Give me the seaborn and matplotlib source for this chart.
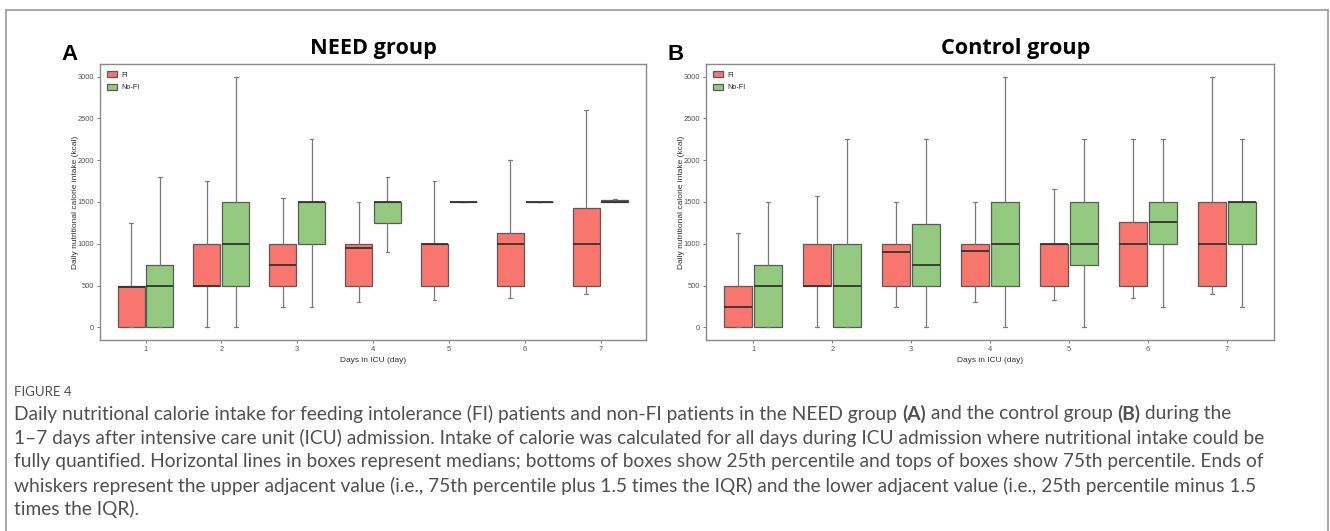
import numpy as np
import pandas as pd
import matplotlib
matplotlib.use("Agg")
import matplotlib.pyplot as plt
from matplotlib.lines import Line2D
import seaborn as sns

# ---- data: five-number summaries per day (kcal) ----
days = [1, 2, 3, 4, 5, 6, 7]
groups = ["FI", "No-FI"]

# NEED group
need_fi_low = [0, 0, 250, 300, 330, 350, 400]
need_fi_q1 = [0, 500, 500, 500, 500, 500, 500]
need_fi_med = [480, 500, 750, 950, 1000, 1000, 1000]
need_fi_q3 = [500, 1000, 1000, 1000, 1000, 1125, 1425]
need_fi_high = [1250, 1750, 1550, 1500, 1750, 2000, 2600]

need_nofi_low = [0, 0, 250, 900, 1500, 1500, 1500]
need_nofi_q1 = [0, 500, 1000, 1250, 1500, 1500, 1500]
need_nofi_med = [500, 1000, 1500, 1500, 1500, 1500, 1500]
need_nofi_q3 = [750, 1500, 1500, 1500, 1500, 1500, 1520]
need_nofi_high = [1800, 3000, 2250, 1800, 1500, 1500, 1530]

# Control group
ctrl_fi_low = [0, 0, 250, 300, 330, 350, 400]
ctrl_fi_q1 = [0, 500, 500, 500, 500, 500, 500]
ctrl_fi_med = [250, 500, 900, 910, 1000, 1000, 1000]
ctrl_fi_q3 = [500, 1000, 1000, 1000, 1000, 1260, 1500]
ctrl_fi_high = [1125, 1570, 1500, 1500, 1650, 2250, 3000]

ctrl_nofi_low = [0, 0, 0, 0, 0, 250, 250]
ctrl_nofi_q1 = [0, 0, 500, 500, 750, 1000, 1000]
ctrl_nofi_med = [500, 500, 750, 1000, 1000, 1260, 1500]
ctrl_nofi_q3 = [750, 1000, 1240, 1500, 1500, 1500, 1500]
ctrl_nofi_high = [1500, 2250, 2250, 3000, 2250, 2250, 2250]

y_ticks = [0, 500, 1000, 1500, 2000, 2500, 3000]

palette = {"FI": "#F8766D", "No-FI": "#94CA7F"}


def long_table(fi, nofi):
    """Five summary values per box -> long-form table (quartiles land exactly)."""
    rows = []
    for g, summ in zip(groups, (fi, nofi)):
        for i, d in enumerate(days):
            for arr in summ:
                rows.append({"day": str(d), "group": g, "kcal": arr[i]})
    return pd.DataFrame(rows)


need_df = long_table(
    (need_fi_low, need_fi_q1, need_fi_med, need_fi_q3, need_fi_high),
    (need_nofi_low, need_nofi_q1, need_nofi_med, need_nofi_q3, need_nofi_high),
)
ctrl_df = long_table(
    (ctrl_fi_low, ctrl_fi_q1, ctrl_fi_med, ctrl_fi_q3, ctrl_fi_high),
    (ctrl_nofi_low, ctrl_nofi_q1, ctrl_nofi_med, ctrl_nofi_q3, ctrl_nofi_high),
)

sns.set_theme(style="white")
plt.rcParams["font.family"] = ["Liberation Sans", "DejaVu Sans"]

W, H = 1330, 531
fig = plt.figure(figsize=(W / 100, H / 100), dpi=100)


def px_axes(x0, y0, x1, y1):
    return fig.add_axes([x0 / W, 1 - y1 / H, (x1 - x0) / W, (y1 - y0) / H])


def draw_panel(ax, df):
    sns.boxplot(
        data=df, x="day", y="kcal", hue="group", hue_order=groups,
        order=[str(d) for d in days], palette=palette, whis=np.inf,
        width=0.76, gap=0.06, linecolor="#5a5a5a", linewidth=0.9,
        saturation=1, capwidths=0.05,
        medianprops=dict(color="#333333", linewidth=1.3),
        whiskerprops=dict(color="#7a7a7a", linewidth=0.9),
        capprops=dict(color="#7a7a7a", linewidth=0.9),
        ax=ax,
    )
    ax.set_xlim(-0.6, 6.6)
    ax.set_ylim(-150, 3150)
    ax.set_yticks(y_ticks)
    ax.set_yticklabels([str(t) for t in y_ticks])
    ax.set_xlabel("Days in ICU (day)", fontsize=6, color="#333333", labelpad=3)
    ax.set_ylabel("Daily nutritional calorie intake (kcal)", fontsize=6,
                  color="#333333", labelpad=-1)
    ax.tick_params(axis="both", length=2.5, width=0.6, colors="#666666",
                   labelsize=5.4, labelcolor="#555555", pad=2,
                   left=True, bottom=True)
    for s in ax.spines.values():
        s.set_visible(True)
        s.set_color("#8a8a8a")
        s.set_linewidth(1.0)
    ax.grid(False)
    sns.move_legend(ax, "upper left", bbox_to_anchor=(0.008, 0.985),
                    frameon=False, title=None, fontsize=5.2,
                    handlelength=1.3, handleheight=0.9, labelspacing=0.75,
                    handletextpad=0.6, borderaxespad=0)


ax_a = px_axes(100, 64, 646, 340)
ax_b = px_axes(706, 64, 1274, 340)
draw_panel(ax_a, need_df)
draw_panel(ax_b, ctrl_df)

# panel tags and titles
fig.text(70 / W, 1 - 55 / H, "A", fontsize=16, fontweight="bold",
         ha="center", va="center", color="black")
fig.text(676 / W, 1 - 55 / H, "B", fontsize=16, fontweight="bold",
         ha="center", va="center", color="black")
fig.text(373 / W, 1 - 48 / H, "NEED group", fontsize=15.6, fontweight="bold",
         family="Open Sans", ha="center", va="center", color="black")
fig.text(1016 / W, 1 - 48 / H, "Control group", fontsize=15.6, fontweight="bold",
         family="Open Sans", ha="center", va="center", color="black")

# outer frame of the figure page
frame_kw = dict(color="#9a9a9a", linewidth=1.2, transform=fig.transFigure)
fig.add_artist(Line2D([6 / W, 1328 / W], [1 - 10 / H, 1 - 10 / H], **frame_kw))
fig.add_artist(Line2D([6 / W, 6 / W], [1 - 10 / H, 0], **frame_kw))
fig.add_artist(Line2D([1328 / W, 1328 / W], [1 - 10 / H, 0], **frame_kw))

# caption
cap_font = "Lato"
cap_color = "#505050"
fig.text(14 / W, 1 - 392 / H, "FIGURE 4", fontsize=9.5, family=cap_font,
         color=cap_color, va="center", ha="left")

caption = [
    [("Daily nutritional calorie intake for feeding intolerance (FI) patients and non-FI patients in the NEED group ", "normal"),
     ("(A)", "bold"), (" and the control group ", "normal"), ("(B)", "bold"), (" during the", "normal")],
    [("1–7 days after intensive care unit (ICU) admission. Intake of calorie was calculated for all days during ICU admission where nutritional intake could be", "normal")],
    [("fully quantified. Horizontal lines in boxes represent medians; bottoms of boxes show 25th percentile and tops of boxes show 75th percentile. Ends of", "normal")],
    [("whiskers represent the upper adjacent value (i.e., 75th percentile plus 1.5 times the IQR) and the lower adjacent value (i.e., 25th percentile minus 1.5", "normal")],
    [("times the IQR).", "normal")],
]
line_y = [414, 438, 462, 486, 509]

fig.canvas.draw()
renderer = fig.canvas.get_renderer()
for runs, y in zip(caption, line_y):
    x = 14
    for txt, weight in runs:
        t = fig.text(x / W, 1 - y / H, txt, fontsize=13.8, family=cap_font,
                     fontweight=weight, color=cap_color, va="center", ha="left")
        bb = t.get_window_extent(renderer=renderer)
        x += bb.width

fig.savefig("out.png", dpi=100)
